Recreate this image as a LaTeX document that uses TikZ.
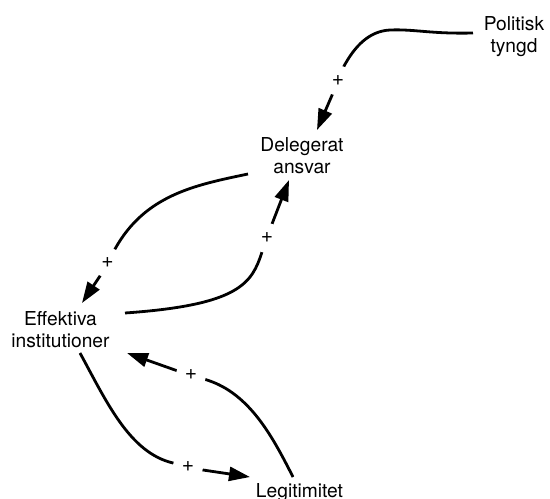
\documentclass[tikz,border=0pt]{standalone}
\usepackage{fontspec}
\setmainfont{TeX Gyre Heros}
\usetikzlibrary{arrows.meta,calc}

\tikzset{
  var/.style={font=\fontsize{19.2}{22.5}\selectfont, align=center, anchor=base, inner sep=0pt},
  link/.style={line width=2.8pt, -{Triangle[length=21pt,width=14pt]}},
  pol/.style={circle, fill=white, inner sep=0pt, minimum size=30pt,
              font=\fontsize{21}{24}\selectfont},
}

\begin{document}
\begin{tikzpicture}[x=1pt, y=-1pt]
  \useasboundingbox (0,0) rectangle (550,499);

  % variables (base = baseline of the last line)
  \node[var] (P) at (514,52.5)   {Politisk\\tyngd};
  \node[var] (D) at (302,173.5)  {Delegerat\\ansvar};
  \node[var] (E) at (60.5,347.5) {Effektiva\\institutioner};
  \node[var] (L) at (299.5,497)  {Legitimitet};

  % Politisk tyngd -> Delegerat ansvar
  \draw[link] ($(P.base)+(-41,-19.5)$)
      .. controls (430,34) and (415,29) .. (390,30)
      .. controls (370,31) and (355,45) .. (343,68)
      -- node[pol] (s1) {+} (333,93)
      -- ($(D.base)+(15,-43.5)$);

  % Delegerat ansvar -> Effektiva institutioner
  \draw[link] ($(D.base)+(-54,0.5)$)
      .. controls (195,185) and (145,195) .. (115,249)
      -- node[pol] (s2) {+} (100,276)
      -- ($(E.base)+(21.5,-44.5)$);

  % Effektiva institutioner -> Delegerat ansvar
  \draw[link] ($(E.base)+(64.5,-34.5)$)
      .. controls (240,305) and (252,283) .. (262,252)
      -- node[pol] (s3) {+} (272,224)
      -- ($(D.base)+(-13,6.5)$);

  % Legitimitet -> Effektiva institutioner
  \draw[link] ($(L.base)+(-6.5,-20)$)
      .. controls (272.75,437) and (249.75,393.5) .. (207,380)
      -- node[pol] (s4) {+} (175,370)
      -- ($(E.base)+(66.5,5.5)$);

  % Effektiva institutioner -> Legitimitet
  \draw[link] ($(E.base)+(19.5,5.5)$)
      .. controls (106.4,401.4) and (129.4,452.7) .. (173,463)
      -- node[pol] (s5) {+} (203,470)
      -- ($(L.base)+(-49.5,-20)$);
\end{tikzpicture}
\end{document}
